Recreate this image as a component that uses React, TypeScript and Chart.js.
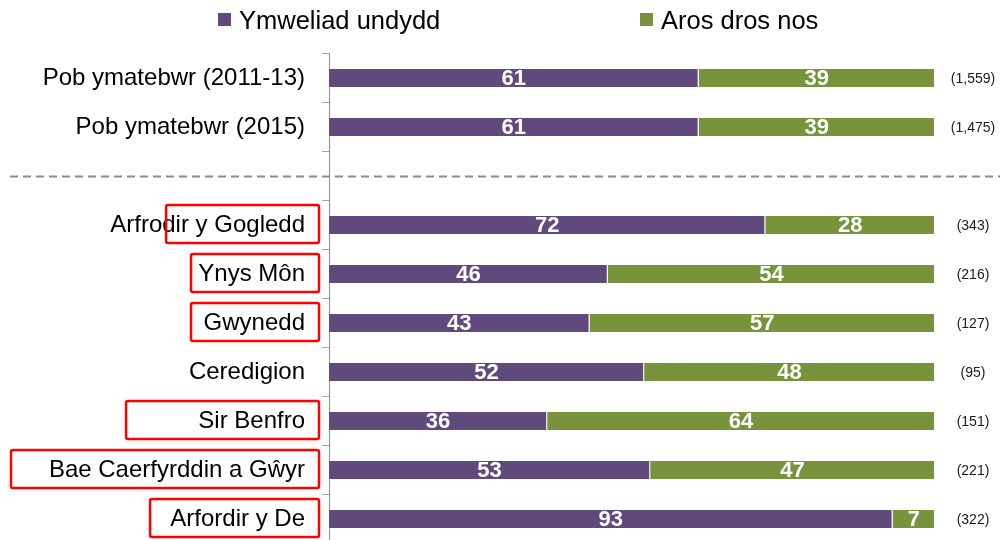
import React, { useEffect, useRef } from "react";
import { Chart, registerables } from "chart.js";

Chart.register(...registerables);

// ---- data ----
const categories = [
  "Pob ymatebwr (2011-13)",
  "Pob ymatebwr (2015)",
  "",
  "Arfrodir y Gogledd",
  "Ynys Môn",
  "Gwynedd",
  "Ceredigion",
  "Sir Benfro",
  "Bae Caerfyrddin a Gŵyr",
  "Arfordir y De",
];
const seriesNames = ["Ymweliad undydd", "Aros dros nos"];
const dayVisit = [61, 61, null, 72, 46, 43, 52, 36, 53, 93];
const overnight = [39, 39, null, 28, 54, 57, 48, 64, 47, 7];
const sampleSizes = ["(1,559)", "(1,475)", "", "(343)", "(216)", "(127)", "(95)", "(151)", "(221)", "(322)"];
const highlighted = [
  "Arfrodir y Gogledd",
  "Ynys Môn",
  "Gwynedd",
  "Sir Benfro",
  "Bae Caerfyrddin a Gŵyr",
  "Arfordir y De",
];
const dividerCategoryIndex = 2;

// ---- styles ----
const FONT = '"Liberation Sans", Arial, Helvetica, sans-serif';
const colors = ["#604A7B", "#77933C"];
const highlightBoxWidths = [153, 128, 128, 193, 308, 169];
const legendBoxX = [218, 640];

const overlayPlugin = {
  id: "overlay",
  afterDatasetsDraw(chart: any) {
    const ctx = chart.ctx;
    const area = chart.chartArea;
    const yScale = chart.scales.y;
    ctx.save();

    // data labels
    ctx.font = `bold 22px ${FONT}`;
    ctx.fillStyle = "#ffffff";
    ctx.textAlign = "center";
    ctx.textBaseline = "middle";
    chart.data.datasets.forEach((ds: any, di: number) => {
      const meta = chart.getDatasetMeta(di);
      meta.data.forEach((bar: any, i: number) => {
        const v = ds.data[i];
        if (v == null) return;
        const p = bar.getProps(["x", "y", "base"], true);
        ctx.fillText(String(v), (p.x + p.base) / 2, p.y + 1);
      });
    });

    // sample sizes
    ctx.font = `14px ${FONT}`;
    ctx.fillStyle = "#1a1a1a";
    sampleSizes.forEach((s, i) => {
      if (!s) return;
      ctx.fillText(s, area.right + 38, yScale.getPixelForValue(i) + 1);
    });

    // dashed divider
    const dy = Math.round(yScale.getPixelForValue(dividerCategoryIndex)) + 0.5;
    ctx.strokeStyle = "#8c8c8c";
    ctx.lineWidth = 2;
    ctx.setLineDash([8, 5]);
    ctx.beginPath();
    ctx.moveTo(10, dy);
    ctx.lineTo(chart.width, dy);
    ctx.stroke();
    ctx.setLineDash([]);

    // highlight boxes
    ctx.strokeStyle = "#ff0000";
    ctx.lineWidth = 2.5;
    highlighted.forEach((name, k) => {
      const idx = categories.indexOf(name);
      if (idx < 0) return;
      const cy = yScale.getPixelForValue(idx);
      const right = area.left - 10;
      const w = highlightBoxWidths[k];
      ctx.beginPath();
      ctx.roundRect(right - w, cy - 20, w, 38, 2);
      ctx.stroke();
    });

    // legend
    ctx.textAlign = "left";
    ctx.textBaseline = "alphabetic";
    ctx.font = `25.5px ${FONT}`;
    chart.data.datasets.forEach((ds: any, di: number) => {
      const x = legendBoxX[di];
      ctx.fillStyle = ds.backgroundColor;
      ctx.fillRect(x, 13, 13, 13);
      ctx.fillStyle = "#000000";
      ctx.fillText(ds.label, x + 21, 29);
    });

    ctx.restore();
  },
};

export default function App() {
  const ref = useRef<HTMLCanvasElement | null>(null);

  useEffect(() => {
    const canvas = ref.current;
    if (!canvas) return;
    const chart = new Chart(canvas, {
      type: "bar",
      data: {
        labels: categories,
        datasets: [
          {
            label: seriesNames[0],
            data: dayVisit as any,
            backgroundColor: colors[0],
            borderColor: "rgba(255,255,255,0.45)",
            borderWidth: 1,
            barPercentage: 0.41,
            categoryPercentage: 1,
          },
          {
            label: seriesNames[1],
            data: overnight as any,
            backgroundColor: colors[1],
            borderColor: "rgba(255,255,255,0.45)",
            borderWidth: 1,
            barPercentage: 0.41,
            categoryPercentage: 1,
          },
        ],
      },
      options: {
        indexAxis: "y",
        responsive: false,
        animation: false,
        layout: { padding: { top: 53.5, bottom: 1.5, right: 65, left: 0 } },
        plugins: {
          legend: { display: false },
          tooltip: { enabled: false },
        },
        scales: {
          x: { stacked: true, min: 0, max: 100, display: false },
          y: {
            stacked: true,
            afterFit: (scale: any) => {
              scale.width = 329;
              scale.paddingTop = 0;
              scale.paddingBottom = 0;
            },
            grid: {
              drawOnChartArea: false,
              drawTicks: true,
              tickLength: 7,
              color: "#a6a6a6",
            },
            border: { display: true, color: "#8c8c8c", width: 1 },
            ticks: {
              color: "#000000",
              padding: 17,
              font: { family: FONT, size: 24 },
            },
          },
        },
      },
      plugins: [overlayPlugin],
    });
    return () => chart.destroy();
  }, []);

  return (
    <div
      style={{
        position: "fixed",
        left: 0,
        top: 0,
        width: 1000,
        height: 540,
        overflow: "hidden",
        background: "#ffffff",
      }}
    >
      <canvas ref={ref} width={1000} height={545} style={{ display: "block" }} />
    </div>
  );
}
